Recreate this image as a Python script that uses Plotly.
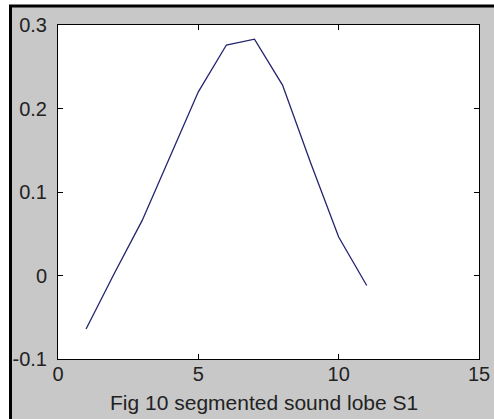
import plotly.graph_objects as go

x_vals = [1, 2, 3, 4, 5, 6, 7, 8, 9, 10, 11]
y_vals = [-0.064, 0.002, 0.066, 0.143, 0.220, 0.276, 0.283, 0.228, 0.135, 0.046, -0.012]
x_ticks = [0, 5, 10, 15]
y_ticks = [-0.1, 0, 0.1, 0.2, 0.3]
y_tick_text = ["-0.1", "0", "0.1", "0.2", "0.3"]
caption = "Fig 10 segmented sound lobe S1"

W, H = 494, 419
L, R, T, B = 58, 15, 25, 60
pw, ph = W - L - R, H - T - B

def px_x(p):
    return (p - L) / pw

def px_y(p):
    return (H - B - p) / ph

fig = go.Figure()
fig.add_trace(go.Scatter(x=x_vals, y=y_vals, mode="lines",
                         line=dict(color="#24246e", width=1.3), showlegend=False))

fig.update_layout(
    width=W, height=H,
    margin=dict(l=L, r=R, t=T, b=B, pad=0, autoexpand=False),
    paper_bgcolor="#c8c8c8",
    plot_bgcolor="white",
    font=dict(family="Liberation Sans, Arial, sans-serif", size=20, color="#222222"),
    xaxis=dict(range=[0, 15], tickvals=x_ticks, ticktext=[str(v) for v in x_ticks],
               showgrid=False, zeroline=False, showline=True, linecolor="black", linewidth=1,
               mirror="ticks", ticks="inside", ticklen=5, tickcolor="black", automargin=False,
               ticklabelstandoff=-3),
    yaxis=dict(range=[-0.1, 0.3], tickvals=y_ticks, ticktext=y_tick_text,
               showgrid=False, zeroline=False, showline=True, linecolor="black", linewidth=1,
               mirror="ticks", ticks="inside", ticklen=5, tickcolor="black",
               ticklabelstandoff=6, automargin=False),
    annotations=[dict(text=caption, xref="paper", yref="paper", x=0.49, y=px_y(402),
                      xanchor="center", yanchor="middle", showarrow=False,
                      font=dict(size=21, color="#222222"))],
    shapes=[
        dict(type="rect", xref="paper", yref="paper", x0=px_x(0), x1=px_x(W), y0=px_y(0), y1=px_y(5),
             fillcolor="white", line=dict(width=0)),
        dict(type="rect", xref="paper", yref="paper", x0=px_x(0), x1=px_x(9), y0=px_y(0), y1=px_y(H),
             fillcolor="white", line=dict(width=0)),
        dict(type="line", xref="paper", yref="paper", x0=px_x(9), x1=px_x(W), y0=px_y(6), y1=px_y(6),
             line=dict(color="black", width=3)),
        dict(type="line", xref="paper", yref="paper", x0=px_x(10.5), x1=px_x(10.5), y0=px_y(5), y1=px_y(H),
             line=dict(color="black", width=3)),
    ],
)

fig.write_html("out.html", config={"displayModeBar": False},
               post_script="document.body.style.margin='0';document.body.style.overflow='hidden';")
